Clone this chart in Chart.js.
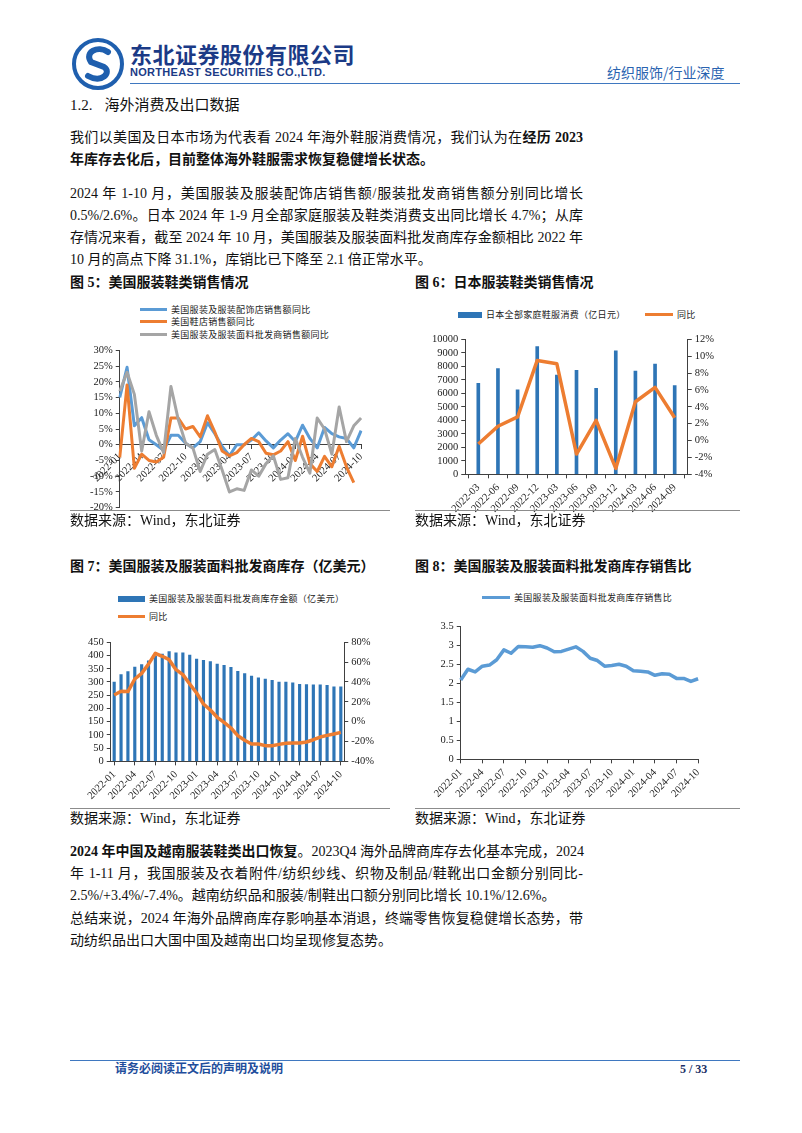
<!DOCTYPE html>
<html>
<head>
<meta charset="utf-8">
<script src="https://cdn.jsdelivr.net/npm/chart.js@4.4.1/dist/chart.umd.min.js"></script>
<style>
body { margin: 0; background: #fff; }
#page { position: relative; width: 802px; height: 1133px; overflow: hidden;
  font-family: "Liberation Serif", "Noto Sans CJK SC", serif; color: #111; }
.abs { position: absolute; }
.tl { position: absolute; left: 70px; width: 513px; font-size: 14px; line-height: 22px; white-space: nowrap; }
.jl { text-align: justify; text-align-last: justify; }
.fig { position: absolute; font-size: 14px; line-height: 22px; font-weight: bold; white-space: nowrap; }
.src { position: absolute; font-size: 14px; line-height: 20px; white-space: nowrap; }
.rule { position: absolute; height: 1px; background: #8c8c8c; }
.leg { position: absolute; font-size: 9px; line-height: 11px; white-space: nowrap; letter-spacing: 0.3px; color: #222; }
.ln { display: inline-block; width: 27px; height: 3px; vertical-align: middle; margin-right: 4px; position: relative; top: -1px; }
.bx { display: inline-block; width: 27px; height: 6px; vertical-align: middle; margin-right: 4px; position: relative; top: -1px; }
.cw { position: absolute; }
</style>
</head>
<body>
<div id="page">

  <!-- header -->
  <svg class="abs" style="left:71px;top:37px" width="54" height="54" viewBox="0 0 54 54">
    <circle cx="27" cy="27" r="24" fill="none" stroke="#1f5fae" stroke-width="4"/>
    <path d="M37 15 C 27 8, 13 15, 20 25 L 33 30 C 41 35, 31 47, 17 39" fill="none" stroke="#1f5fae" stroke-width="6" stroke-linecap="round"/>
  </svg>
  <div class="abs" style="left:130px;top:38px;font-family:'Noto Sans CJK SC';font-weight:bold;font-size:22px;line-height:30px;letter-spacing:0.5px;color:#1b3a86;">东北证券股份有限公司</div>
  <div class="abs" style="left:130px;top:65px;font-family:'Liberation Sans';font-weight:bold;font-size:11px;line-height:14px;letter-spacing:0.3px;color:#1b3a86;">NORTHEAST SECURITIES CO.,LTD.</div>
  <div class="abs" style="left:607px;top:63px;font-family:'Noto Sans CJK SC';font-size:14px;line-height:18px;color:#2a63b0;">纺织服饰/行业深度</div>
  <div class="abs" style="left:130px;top:83px;width:610px;height:1px;background:#3f78c0;"></div>

  <!-- section heading -->
  <div class="abs" style="left:70px;top:94px;font-size:15px;line-height:22px;">1.2.<span style="margin-left:12px">海外消费及出口数据</span></div>

  <!-- paragraph 1 -->
  <div class="tl jl" style="top:127px">我们以美国及日本市场为代表看 2024 年海外鞋服消费情况，我们认为在<b>经历 2023</b></div>
  <div class="tl" style="top:149px"><b>年库存去化后，目前整体海外鞋服需求恢复稳健增长状态。</b></div>

  <!-- paragraph 2 -->
  <div class="tl jl" style="top:183px">2024 年 1-10 月，美国服装及服装配饰店销售额/服装批发商销售额分别同比增长</div>
  <div class="tl jl" style="top:205px">0.5%/2.6%。日本 2024 年 1-9 月全部家庭服装及鞋类消费支出同比增长 4.7%；从库</div>
  <div class="tl jl" style="top:227px">存情况来看，截至 2024 年 10 月，美国服装及服装面料批发商库存金额相比 2022 年</div>
  <div class="tl" style="top:249px">10 月的高点下降 31.1%，库销比已下降至 2.1 倍正常水平。</div>

  <!-- figure 5 / 6 -->
  <div class="fig" style="left:70px;top:272px">图 5：美国服装鞋类销售情况</div>
  <div class="fig" style="left:415px;top:272px">图 6：日本服装鞋类销售情况</div>

  <div class="leg" style="left:140px;top:305px"><span class="ln" style="background:#5B9BD5"></span>美国服装及服装配饰店销售额同比</div>
  <div class="leg" style="left:140px;top:317px"><span class="ln" style="background:#ED7D31"></span>美国鞋店销售额同比</div>
  <div class="leg" style="left:140px;top:330px"><span class="ln" style="background:#A5A5A5"></span>美国服装及服装面料批发商销售额同比</div>
  <div class="cw" style="left:87px;top:341px;width:285px;height:176px"><canvas id="chart-us-sales"></canvas></div>

  <div class="leg" style="left:458px;top:310px"><span class="bx" style="background:#2E75B6;width:24px"></span>日本全部家庭鞋服消费（亿日元）</div>
  <div class="leg" style="left:645px;top:310px"><span class="ln" style="background:#ED7D31;width:28px"></span>同比</div>
  <div class="cw" style="left:429px;top:330px;width:288px;height:188px"><canvas id="chart-jp-sales"></canvas></div>

  <div class="rule" style="left:70px;top:510px;width:320px"></div>
  <div class="rule" style="left:415px;top:510px;width:325px"></div>
  <div class="src" style="left:70px;top:511px">数据来源：Wind，东北证券</div>
  <div class="src" style="left:415px;top:511px">数据来源：Wind，东北证券</div>

  <!-- figure 7 / 8 -->
  <div class="fig" style="left:70px;top:556px">图 7：美国服装及服装面料批发商库存（亿美元）</div>
  <div class="fig" style="left:415px;top:556px">图 8：美国服装及服装面料批发商库存销售比</div>

  <div class="leg" style="left:118px;top:594px"><span class="bx" style="background:#2E75B6"></span>美国服装及服装面料批发商库存金额（亿美元）</div>
  <div class="leg" style="left:118px;top:612px"><span class="ln" style="background:#ED7D31"></span>同比</div>
  <div class="cw" style="left:85px;top:633px;width:292px;height:172px"><canvas id="chart-us-inventory"></canvas></div>

  <div class="leg" style="left:482px;top:593px"><span class="ln" style="background:#5B9BD5;width:28px"></span>美国服装及服装面料批发商库存销售比</div>
  <div class="cw" style="left:433px;top:617px;width:277px;height:186px"><canvas id="chart-us-ratio"></canvas></div>

  <div class="rule" style="left:70px;top:808px;width:320px"></div>
  <div class="rule" style="left:415px;top:808px;width:325px"></div>
  <div class="src" style="left:70px;top:809px">数据来源：Wind，东北证券</div>
  <div class="src" style="left:415px;top:809px">数据来源：Wind，东北证券</div>

  <!-- paragraph 3 -->
  <div class="tl jl" style="top:841px"><b>2024 年中国及越南服装鞋类出口恢复</b>。2023Q4 海外品牌商库存去化基本完成，2024</div>
  <div class="tl jl" style="top:863px">年 1-11 月，我国服装及衣着附件/纺织纱线、织物及制品/鞋靴出口金额分别同比-</div>
  <div class="tl" style="top:885px">2.5%/+3.4%/-7.4%。越南纺织品和服装/制鞋出口额分别同比增长 10.1%/12.6%。</div>

  <!-- paragraph 4 -->
  <div class="tl jl" style="top:908px">总结来说，2024 年海外品牌商库存影响基本消退，终端零售恢复稳健增长态势，带</div>
  <div class="tl" style="top:930px">动纺织品出口大国中国及越南出口均呈现修复态势。</div>

  <!-- footer -->
  <div class="abs" style="left:70px;top:1060px;width:670px;height:1px;background:#3f78c0;"></div>
  <div class="abs" style="left:115px;top:1061px;font-size:12px;line-height:16px;font-weight:bold;color:#1f4e9c;">请务必阅读正文后的声明及说明</div>
  <div class="abs" style="left:680px;top:1061px;font-size:12px;line-height:16px;font-weight:bold;color:#1b2f66;">5 / 33</div>
</div>

<script>
// ---- data ----
const monthLabels = ['2022-01', '2022-02', '2022-03', '2022-04', '2022-05', '2022-06', '2022-07', '2022-08', '2022-09', '2022-10', '2022-11', '2022-12',
  '2023-01', '2023-02', '2023-03', '2023-04', '2023-05', '2023-06', '2023-07', '2023-08', '2023-09', '2023-10', '2023-11', '2023-12',
  '2024-01', '2024-02', '2024-03', '2024-04', '2024-05', '2024-06', '2024-07', '2024-08', '2024-09', '2024-10'];

// Fig 5 (YoY %, monthly)
const apparelStoreYoY = [15, 24.6, 6, 8.6, 1.6, 0, -1.8, 3, 3, 0.5, -1, 1, 7, 3.5, -0.5, -3.5, 0, 0, 1.5, 3.8, 1.2, -1, 1.5, 3.5, 1, 6.2, 2, -1, 5.5, 3.5, 2.5, 2, -1, 4.5];
const shoeStoreYoY = [-4, 19, -7.5, -3, -5, -5.5, -4, 8.5, 8.5, 5, 5.8, 2.5, 9.2, 4, -2, -3.5, -2.5, 0, 2, 1, -2.7, -3.2, -2, 1, -5, 2.7, -6, -8.5, -3.7, -7, -0.5, -7, -12];
const wholesaleSalesYoY = [17, 23, 16, -2, 10.5, 3, -2.5, 18.5, 8, 0.5, -1, -8.5, -3, -1.5, -8, -15, -14, -14.5, -8, -10, -6, -3.5, -11, -10.5, 2, -4, -9, 8.5, 5, -3, 12, 1, 6, 8.5];

// Fig 6 (quarterly)
const quarterLabels = ['2022-03', '2022-06', '2022-09', '2022-12', '2023-03', '2023-06', '2023-09', '2023-12', '2024-03', '2024-06', '2024-09'];
const jpSpend = [6740, 7840, 6250, 9460, 7350, 7700, 6370, 9140, 7650, 8160, 6570];
const jpSpendYoY = [-0.4, 1.7, 2.8, 9.5, 9.1, -1.6, 2.4, -3.3, 4.6, 6.3, 2.7];

// Fig 7 (inventory, 100m USD / YoY %)
const wholesaleInventory = [300, 328, 339, 356, 366, 380, 398, 405, 415, 410, 410, 402, 387, 382, 377, 368, 363, 355, 340, 332, 322, 316, 311, 306, 300, 300, 297, 291, 290, 289, 289, 287, 282, 282];
const wholesaleInventoryYoY = [26.9, 30.6, 30.3, 43, 48.7, 58, 68.9, 65.9, 62.5, 52.4, 47.4, 38, 28.9, 17.8, 11.8, 4.4, -0.7, -6.4, -14.1, -18.8, -22.5, -22.5, -24.2, -24.2, -22.9, -21.8, -21.5, -21.5, -20.5, -18.2, -15.5, -13.8, -12.4, -10.8];

// Fig 8 (inventory / sales ratio)
const inventorySalesRatio = [2.09, 2.37, 2.30, 2.45, 2.48, 2.62, 2.88, 2.79, 2.97, 2.96, 2.95, 2.99, 2.93, 2.83, 2.84, 2.90, 2.96, 2.84, 2.66, 2.60, 2.45, 2.47, 2.50, 2.45, 2.33, 2.32, 2.30, 2.21, 2.25, 2.24, 2.13, 2.13, 2.05, 2.12];

// ---- shared look ----
const BLUE = '#5B9BD5', ORANGE = '#ED7D31', GREY = '#A5A5A5', BAR = '#2E75B6', AXIS = '#404040';
Chart.defaults.font.family = "'Liberation Serif', serif";
Chart.defaults.font.size = 10.5;
Chart.defaults.color = '#222';
Chart.defaults.animation = false;
Chart.defaults.plugins.legend.display = false;
Chart.defaults.plugins.tooltip.enabled = false;

function axisStyle(extra) {
  return Object.assign({
    border: { color: AXIS, width: 1 },
    grid: { drawOnChartArea: false, drawTicks: true, tickLength: 4, color: AXIS },
    ticks: { padding: 3 }
  }, extra);
}
const pct = v => v + '%';
const plain = v => String(v);
const every3 = (v, i) => (i % 3 === 0 ? monthLabels[i] : null);
const lineSet = (label, data, color, extra) => Object.assign({
  type: 'line', label, data, borderColor: color, backgroundColor: color,
  borderWidth: 3, pointRadius: 0, tension: 0, borderJoinStyle: 'round'
}, extra);

// Fig 5
new Chart(document.getElementById('chart-us-sales'), {
  type: 'line',
  data: {
    labels: monthLabels,
    datasets: [
      lineSet('美国服装及服装配饰店销售额同比', apparelStoreYoY, BLUE, { order: 2 }),
      lineSet('美国鞋店销售额同比', shoeStoreYoY, ORANGE, { order: 1 }),
      lineSet('美国服装及服装面料批发商销售额同比', wholesaleSalesYoY, GREY, { order: 0 })
    ]
  },
  options: {
    responsive: true, maintainAspectRatio: false,
    layout: { padding: 0 },
    scales: {
      x: axisStyle({
        position: { y: 0 },
        offset: false,
        ticks: { autoSkip: false, minRotation: 45, maxRotation: 45, padding: 2, callback: every3 }
      }),
      y: axisStyle({
        min: -20, max: 30,
        ticks: { stepSize: 5, autoSkip: false, callback: pct, padding: 3 }
      })
    }
  }
});

// Fig 6 - linear x so bars sit just inside both ends like the original
new Chart(document.getElementById('chart-jp-sales'), {
  type: 'bar',
  data: {
    datasets: [
      lineSet('同比', jpSpendYoY.map((v, i) => ({ x: i, y: v })), ORANGE, { yAxisID: 'y1', order: 0, borderWidth: 3.5 }),
      {
        type: 'bar', label: '日本全部家庭鞋服消费（亿日元）',
        data: jpSpend.map((v, i) => ({ x: i, y: v })),
        backgroundColor: BAR, barThickness: 3, yAxisID: 'y', order: 1
      }
    ]
  },
  options: {
    responsive: true, maintainAspectRatio: false,
    layout: { padding: 0 },
    scales: {
      x: axisStyle({
        type: 'linear', min: -0.15, max: 10.15,
        afterBuildTicks: s => { s.ticks = quarterLabels.map((_, i) => ({ value: i })); },
        ticks: { autoSkip: false, minRotation: 45, maxRotation: 45, callback: v => quarterLabels[v] }
      }),
      y: axisStyle({ min: 0, max: 10000, ticks: { stepSize: 1000, autoSkip: false, callback: plain } }),
      y1: axisStyle({ position: 'right', min: -4, max: 12, ticks: { stepSize: 2, autoSkip: false, callback: pct } })
    }
  }
});

// Fig 7
new Chart(document.getElementById('chart-us-inventory'), {
  type: 'bar',
  data: {
    labels: monthLabels,
    datasets: [
      lineSet('同比', wholesaleInventoryYoY, ORANGE, { yAxisID: 'y1', order: 0, borderWidth: 3.5 }),
      {
        type: 'bar', label: '美国服装及服装面料批发商库存金额（亿美元）',
        data: wholesaleInventory, backgroundColor: BAR, barThickness: 2.5, yAxisID: 'y', order: 1
      }
    ]
  },
  options: {
    responsive: true, maintainAspectRatio: false,
    layout: { padding: 0 },
    scales: {
      x: axisStyle({
        grid: { offset: false, drawOnChartArea: false, tickLength: 4, color: AXIS },
        ticks: { autoSkip: false, minRotation: 45, maxRotation: 45, callback: every3 }
      }),
      y: axisStyle({ min: 0, max: 450, ticks: { stepSize: 50, autoSkip: false, callback: plain } }),
      y1: axisStyle({ position: 'right', min: -40, max: 80, ticks: { stepSize: 20, autoSkip: false, callback: pct } })
    }
  }
});

// Fig 8
new Chart(document.getElementById('chart-us-ratio'), {
  type: 'line',
  data: {
    labels: monthLabels,
    datasets: [lineSet('美国服装及服装面料批发商库存销售比', inventorySalesRatio, BLUE, { borderWidth: 3.5 })]
  },
  options: {
    responsive: true, maintainAspectRatio: false,
    layout: { padding: 0 },
    scales: {
      x: axisStyle({
        offset: false,
        ticks: { autoSkip: false, minRotation: 45, maxRotation: 45, callback: every3 }
      }),
      y: axisStyle({ min: 0, max: 3.5, ticks: { stepSize: 0.5, autoSkip: false, callback: plain } })
    }
  }
});
</script>
</body>
</html>
